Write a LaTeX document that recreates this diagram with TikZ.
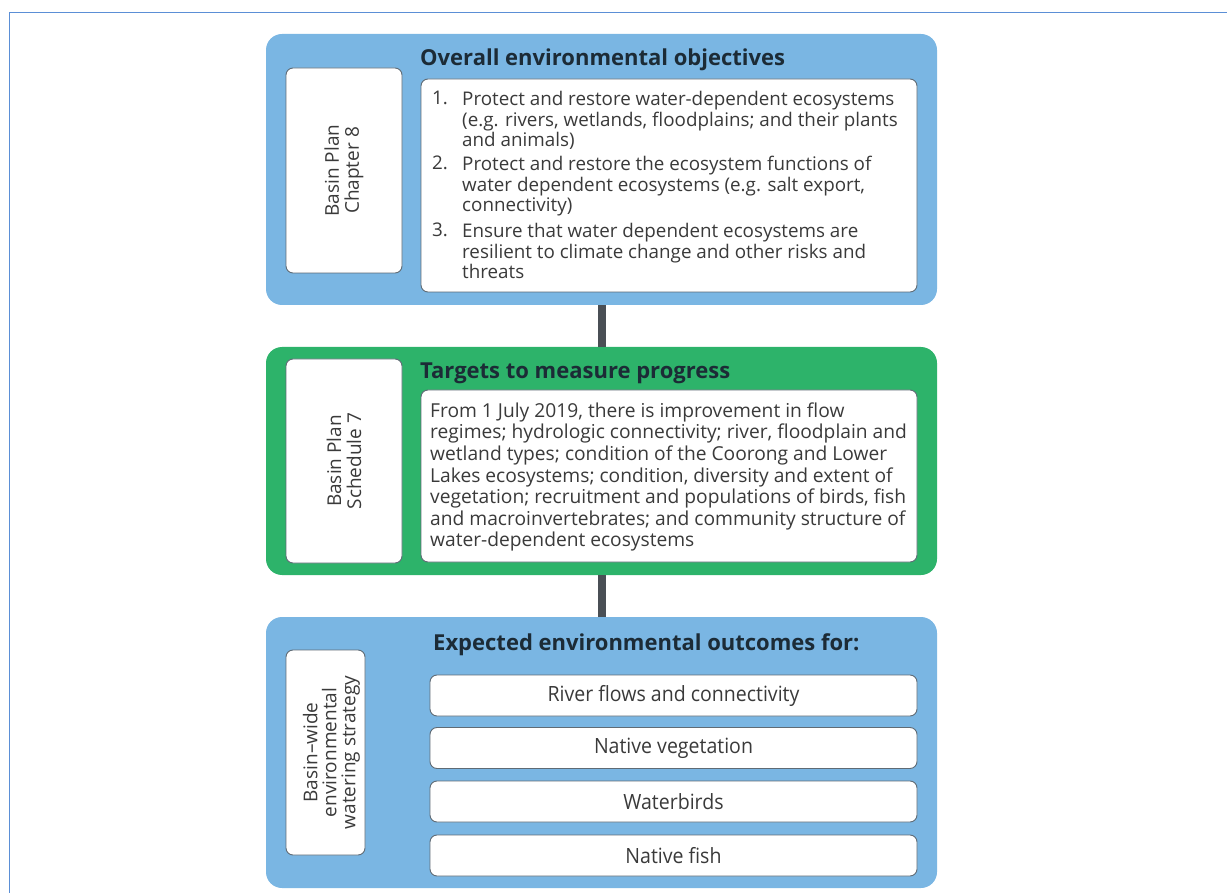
\documentclass[tikz,border=0pt]{standalone}
\usepackage{fontspec}
\setmainfont{Open Sans}
\newfontfamily\condfont[FakeStretch=0.93]{Open Sans}
\usetikzlibrary{positioning}
\definecolor{panelblue}{HTML}{7AB6E3}
\definecolor{panelgreen}{HTML}{2DB36A}
\definecolor{linkgrey}{HTML}{4A4F55}
\definecolor{boxline}{HTML}{5F6B75}
\definecolor{bodytext}{HTML}{3A3A3A}
\definecolor{headtext}{HTML}{1C2B36}
\definecolor{framecol}{HTML}{5B8FD6}
\tikzset{
panel/.style={rounded corners=16pt, minimum width=671pt, inner sep=0pt},
whitebox/.style={draw=boxline, fill=white, line width=0.9pt, rounded corners=7pt, inner sep=0pt},
heading/.style={font=\fontsize{22}{26}\selectfont\bfseries, text=headtext, anchor=base west, inner sep=0pt},
bodytxt/.style={font=\fontsize{18.8}{19.6}\selectfont, text=bodytext, align=left, anchor=north west, inner sep=0pt},
sidetxt/.style={font=\fontsize{19}{20}\selectfont, text=bodytext, align=center, rotate=90, inner sep=0pt},
itemtxt/.style={font=\condfont\fontsize{21}{24}\selectfont, text=bodytext, inner sep=0pt},
link/.style={draw=linkgrey, line width=8pt}
}
\begin{document}
\begin{tikzpicture}[x=1pt,y=-1pt]
\useasboundingbox (0,0) rectangle (1227,893);
\draw[framecol, line width=1pt] (1227,13) -- (9,13) -- (9,893);
\node[panel, fill=panelblue, minimum height=271pt] (obj) at (601.5,169.5) {};
\node[panel, fill=panelgreen, minimum height=228pt] (tgt) at (601.5,461) {};
\node[panel, fill=panelblue, minimum height=271pt] (out) at (601.5,752.5) {};
\draw[link] (obj.south) -- (tgt.north);
\draw[link] (tgt.south) -- (out.north);
\node[whitebox, minimum width=116pt, minimum height=205pt] (objside) at (344,170.5) {};
\node[whitebox, minimum width=116pt, minimum height=204pt] (tgtside) at (344,461) {};
\node[whitebox, minimum width=79pt, minimum height=205pt] (outside) at (325.5,752.5) {};
\node[sidetxt] at (objside) {Basin Plan\\Chapter 8};
\node[sidetxt] at (tgtside) {Basin Plan\\Schedule 7};
\node[sidetxt, font=\fontsize{19}{19}\selectfont] at ([xshift=6pt]outside.center) {Basin–wide\\environmental\\watering strategy};
\node[heading] (objhead) at (420,66) {Overall environmental objectives};
\node[heading] (tgthead) at (420,379) {Targets to measure progress};
\node[heading] (outhead) at (433,650) {Expected environmental outcomes for:};
\node[whitebox, minimum width=496pt, minimum height=213pt] (objlist) at (669,185.5) {};
\node[whitebox, minimum width=496pt, minimum height=172pt] (tgtlist) at (669,476) {};
\node[bodytxt] (num1) at (432,91) {\strut 1.};
\node[bodytxt] (item1) at (462,91) {\strut Protect and restore water-dependent ecosystems\\(e.g. rivers, wetlands, floodplains; and their plants\\and animals)};
\node[bodytxt] (num2) at (432,156) {\strut 2.};
\node[bodytxt] (item2) at (462,156) {\strut Protect and restore the ecosystem functions of\\water dependent ecosystems (e.g. salt export,\\connectivity)};
\node[bodytxt] (num3) at (432,223) {\strut 3.};
\node[bodytxt] (item3) at (462,223) {\strut Ensure that water dependent ecosystems are\\resilient to climate change and other risks and\\threats};
\node[bodytxt, font=\fontsize{19.2}{21.6}\selectfont] (tgttext) at (430,402) {\strut From 1 July 2019, there is improvement in flow\\regimes; hydrologic connectivity; river, floodplain and\\wetland types; condition of the Coorong and Lower\\Lakes ecosystems; condition, diversity and extent of\\vegetation; recruitment and populations of birds, fish\\and macroinvertebrates; and community structure of\\water-dependent ecosystems};
\foreach \y/\t [count=\i] in {695.5/River flows and connectivity, 748/Native vegetation, 801.5/Waterbirds, 855.5/Native fish}
\node[whitebox, minimum width=487pt, minimum height=41pt] (outitem\i) at (673.5,\y) {};
\foreach \y/\t [count=\i] in {695.5/River flows and connectivity, 748/Native vegetation, 801.5/Waterbirds, 855.5/Native fish}
\node[itemtxt] at (outitem\i) {\t};
\end{tikzpicture}
\end{document}
